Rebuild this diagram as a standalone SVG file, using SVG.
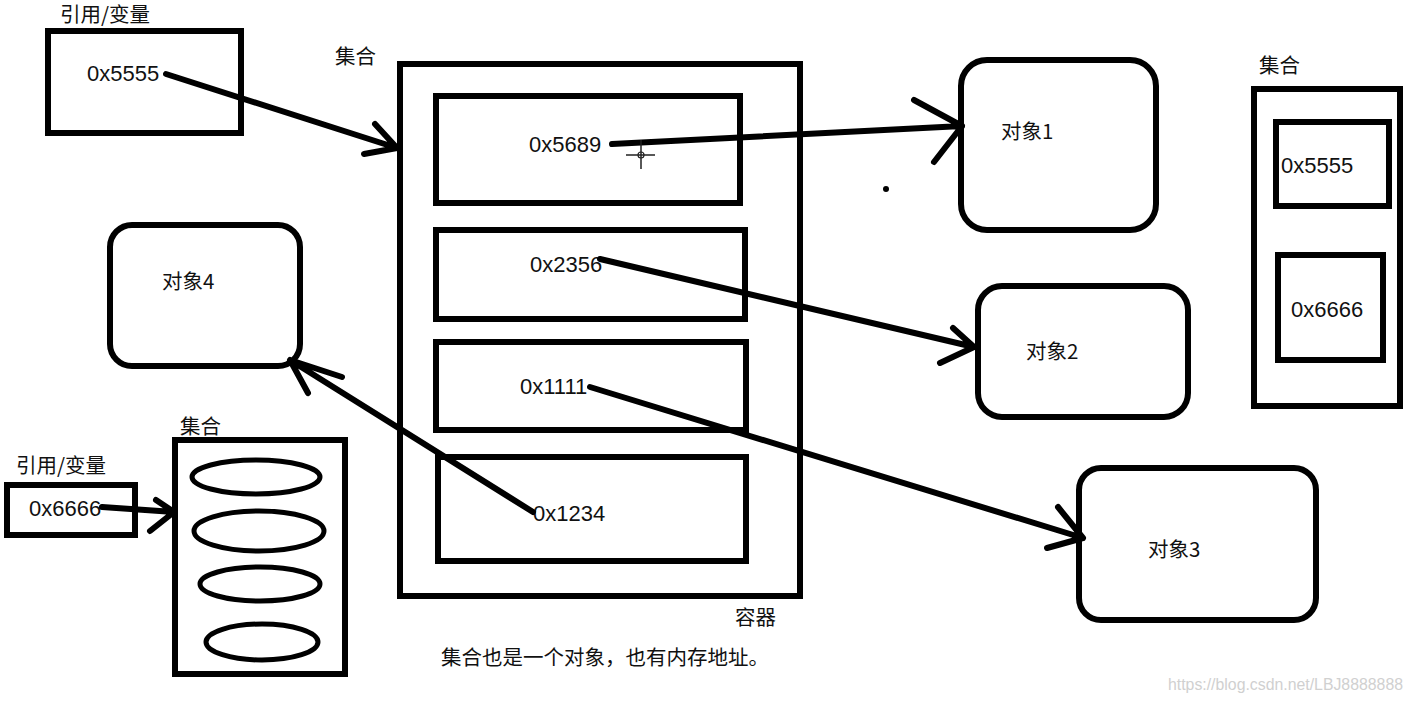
<svg xmlns="http://www.w3.org/2000/svg" width="1413" height="703" viewBox="0 0 1413 703">
<style>
.box{fill:none;stroke:#000;stroke-width:6}
.ell{fill:none;stroke:#000;stroke-width:5}
.ln{fill:none;stroke:#000;stroke-width:6;stroke-linecap:round;stroke-linejoin:round}
.t{font-family:"Liberation Sans","Noto Sans CJK SC",sans-serif;font-size:22px;fill:#111}
.c{font-family:"Noto Sans CJK SC","Liberation Sans",sans-serif;font-size:20.5px;fill:#111}
.wm{font-family:"Liberation Sans",sans-serif;font-size:16px;fill:#d0d0d0}
</style>
<rect width="1413" height="703" fill="#fff"/>
<g id="ref1">
<text class="c" x="60" y="22">引用/变量</text>
<rect class="box" x="48" y="31" width="193" height="102"/>
<text class="t" x="87" y="81">0x5555</text>
</g>
<g id="container">
<text class="c" x="335" y="64">集合</text>
<rect class="box" x="400" y="64" width="400" height="532"/>
<text class="c" x="735" y="625">容器</text>
</g>
<g id="slot1"><rect class="box" x="436" y="96" width="304" height="107"/><text class="t" x="529" y="152">0x5689</text></g>
<g id="slot2"><rect class="box" x="436" y="230" width="309" height="89"/><text class="t" x="530" y="272">0x2356</text></g>
<g id="slot3"><rect class="box" x="436" y="342" width="310" height="88"/><text class="t" x="520" y="394">0x1111</text></g>
<g id="slot4"><rect class="box" x="438" y="457" width="308" height="104"/><text class="t" x="533" y="521">0x1234</text></g>
<g id="note"><text class="c" x="441" y="665">集合也是一个对象，也有内存地址。</text></g>
<g id="obj1"><rect class="box" x="961" y="60" width="195" height="170" rx="26"/><text class="c" x="1001" y="139">对象1</text></g>
<g id="obj2"><rect class="box" x="978" y="286" width="210" height="131" rx="24"/><text class="c" x="1026" y="359">对象2</text></g>
<g id="obj3"><rect class="box" x="1079" y="468" width="237" height="152" rx="22"/><text class="c" x="1148" y="557">对象3</text></g>
<g id="obj4"><rect class="box" x="110" y="225" width="190" height="141" rx="22"/><text class="c" x="162" y="289">对象4</text></g>
<g id="set-right">
<text class="c" x="1259" y="73">集合</text>
<rect class="box" x="1254" y="89" width="146" height="317"/>
<rect class="box" x="1276" y="122" width="113" height="84"/>
<text class="t" x="1281" y="173">0x5555</text>
<rect class="box" x="1278" y="255" width="105" height="105"/>
<text class="t" x="1291" y="317">0x6666</text>
</g>
<g id="ref2">
<text class="c" x="16" y="473">引用/变量</text>
<rect class="box" x="7" y="485" width="128" height="50"/>
<text class="t" x="29" y="516">0x6666</text>
</g>
<g id="set-left">
<text class="c" x="180" y="434">集合</text>
<rect x="172" y="437" width="176" height="240" fill="#fff"/>
<rect class="box" x="175" y="440" width="170" height="234"/>
<ellipse class="ell" cx="256" cy="477" rx="64" ry="17"/>
<ellipse class="ell" cx="259" cy="531" rx="65" ry="20"/>
<ellipse class="ell" cx="260" cy="584" rx="60" ry="17"/>
<ellipse class="ell" cx="262" cy="642" rx="56" ry="18"/>
</g>
<g id="connectors">
<path class="ln" d="M166 74 L397 148 M375 124 L397 148 L364 154"/>
<path class="ln" d="M612 144 L962 126 M914 100 L962 126 L934 162"/>
<path class="ln" d="M600 259 L974 347 M953 328 L974 347 L940 363"/>
<path class="ln" d="M590 387 L1083 538 M1058 507 L1083 538 L1047 548"/>
<path class="ln" d="M533 512 L290 360 M342 377 L290 360 L308 393"/>
<path class="ln" d="M102 507 L174 512 M156 500 L174 512 L150 531"/>
</g>
<g id="marks">
<circle cx="886" cy="189" r="3" fill="#000"/>
<path d="M641 140 V169 M626 155 H655" stroke="#222" stroke-width="1.5" fill="none"/>
<circle cx="641" cy="155" r="3" fill="none" stroke="#222" stroke-width="1.2"/>
</g>
<text class="wm" x="1168" y="690" textLength="235" lengthAdjust="spacingAndGlyphs">https://blog.csdn.net/LBJ8888888</text>
</svg>
